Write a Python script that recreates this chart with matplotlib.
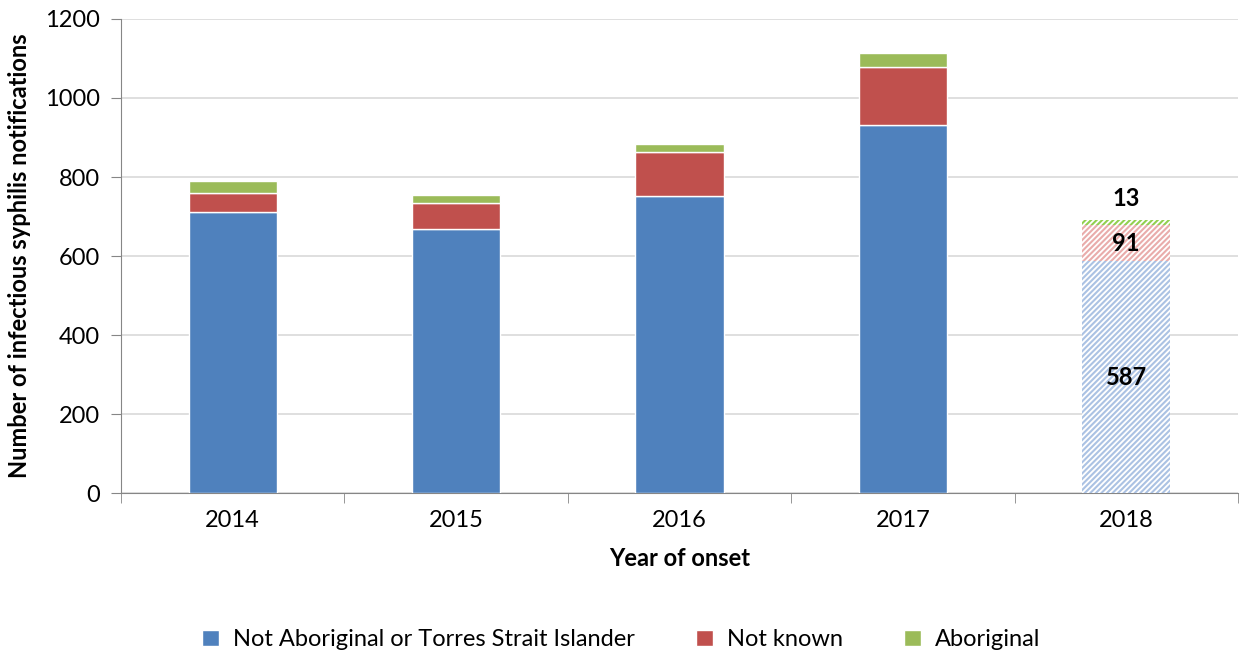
import numpy as np
import matplotlib.pyplot as plt

plt.rcParams['font.family'] = ['Lato', 'DejaVu Sans']

years = ["2014", "2015", "2016", "2017", "2018"]
not_aboriginal = [711, 668, 752, 932, 587]
not_known = [48, 66, 111, 146, 91]
aboriginal = [31, 20, 20, 36, 13]
labels = ["Not Aboriginal or Torres Strait Islander", "Not known", "Aboriginal"]

solid = ["#4f81bd", "#c0504d", "#9bbb59"]
light = ["#abc2e3", "#e9acab", "#92d050"]

fs = 17

fig = plt.figure(figsize=(12.43, 6.55), dpi=100)
ax = fig.add_axes([0.0973, 0.2473, 0.8986, 0.7237])
plt.rcParams['hatch.linewidth'] = 1.5

x = np.arange(len(years))
w = 0.395
series = [not_aboriginal, not_known, aboriginal]
bottom = np.zeros(len(years))
for i, (vals, lab) in enumerate(zip(series, labels)):
    vals = np.array(vals, dtype=float)
    # solid bars for complete years
    ax.bar(x[:-1], vals[:-1], w, bottom=bottom[:-1], color=solid[i],
           edgecolor="white", linewidth=1, label=lab, zorder=3)
    # hatched bar for the last (incomplete) year
    ax.bar(x[-1], vals[-1], w, bottom=bottom[-1], color="white",
           edgecolor=light[i], hatch="//////", linewidth=0, zorder=3)
    bottom += vals

# labels on the 2018 bar
last = len(years) - 1
ax.text(x[last], not_aboriginal[last] / 2, str(not_aboriginal[last]),
        ha="center", va="center", fontsize=fs, fontweight="bold", zorder=4)
ax.text(x[last], not_aboriginal[last] + not_known[last] / 2, str(not_known[last]),
        ha="center", va="center", fontsize=fs, fontweight="bold", zorder=4)
ax.text(x[last], bottom[last] + 55, str(aboriginal[last]),
        ha="center", va="center", fontsize=fs, fontweight="bold", zorder=4)

ax.set_ylim(0, 1200)
ax.set_xlim(-0.5, len(years) - 0.5)
ax.set_yticks(np.arange(0, 1201, 200))
ax.set_xticks(x)
ax.set_xticklabels(years)
ax.set_xticks(np.arange(-0.5, len(years), 1), minor=True)
ax.tick_params(axis="x", which="major", length=0, labelsize=fs, pad=12)
ax.tick_params(axis="x", which="minor", length=7, color="#868686", direction="out")
ax.tick_params(axis="y", length=7, color="#868686", labelsize=fs, pad=8)
ax.grid(axis="y", color="#d9d9d9", linewidth=1.2, zorder=0)

for s in ["top", "right"]:
    ax.spines[s].set_visible(False)
ax.spines["left"].set_color("#868686")
ax.spines["bottom"].set_color("#868686")

ax.set_ylabel("Number of infectious syphilis notifications", fontsize=fs,
              fontweight="bold", labelpad=10)
ax.set_xlabel("Year of onset", fontsize=fs, fontweight="bold", labelpad=12)

fig.legend(loc="center", bbox_to_anchor=(0.5, 0.023), ncol=3, frameon=False,
           fontsize=fs, handlelength=0.7, handleheight=0.7, columnspacing=2.6,
           handletextpad=0.6)

fig.savefig("out.png", dpi=100)
